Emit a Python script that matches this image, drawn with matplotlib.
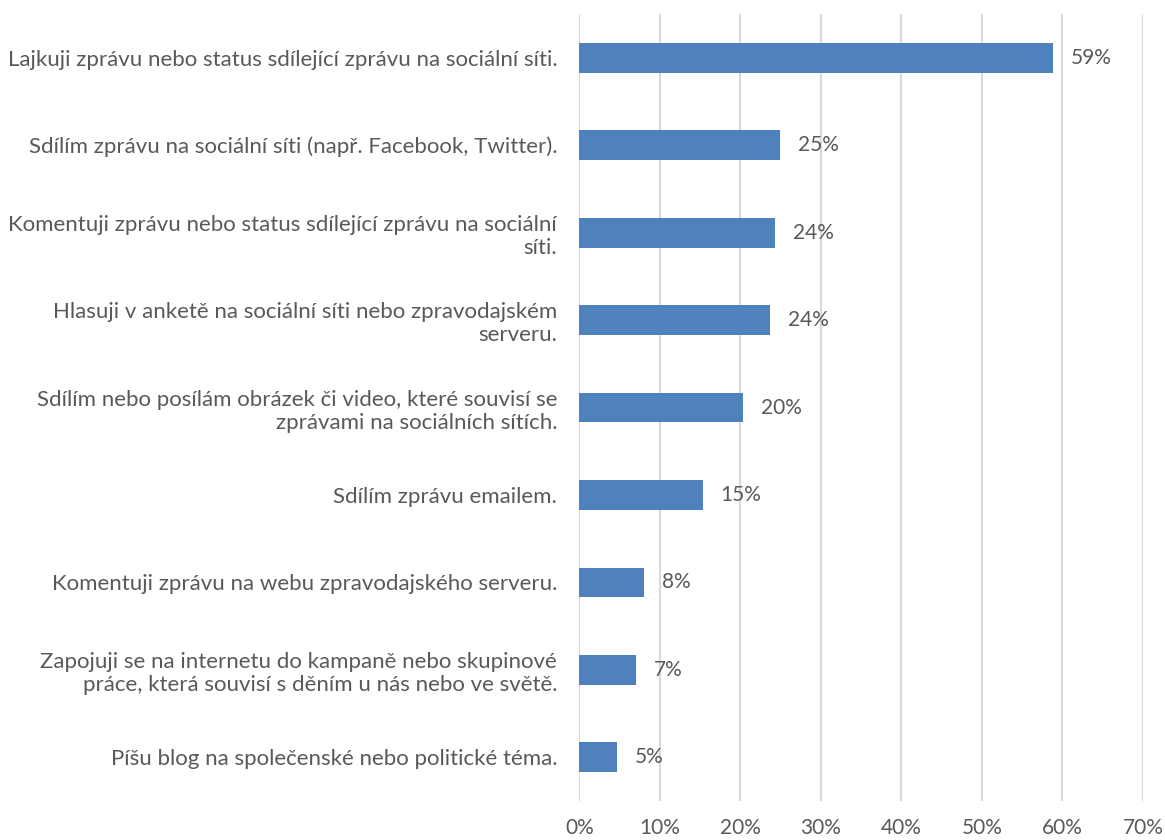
import numpy as np
import matplotlib.pyplot as plt
from matplotlib.ticker import PercentFormatter

# categories, top to bottom as in the chart
categories = [
    "Lajkuji zprávu nebo status sdílející zprávu na sociální síti.",
    "Sdílím zprávu na sociální síti (např. Facebook, Twitter).",
    "Komentuji zprávu nebo status sdílející zprávu na sociální\nsíti.",
    "Hlasuji v anketě na sociální síti nebo zpravodajském\nserveru.",
    "Sdílím nebo posílám obrázek či video, které souvisí se\nzprávami na sociálních sítích.",
    "Sdílím zprávu emailem.",
    "Komentuji zprávu na webu zpravodajského serveru.",
    "Zapojuji se na internetu do kampaně nebo skupinové\npráce, která souvisí s děním u nás nebo ve světě.",
    "Píšu blog na společenské nebo politické téma.",
]
shares = [0.588, 0.249, 0.243, 0.237, 0.203, 0.153, 0.080, 0.070, 0.047]

x_ticks = np.arange(0, 0.71, 0.1)

plt.rcParams["font.family"] = ["Lato", "DejaVu Sans"]
text_col = "#595959"
bar_col = "#4F81BD"

fig = plt.figure(figsize=(11.65, 8.4), dpi=100)
ax = fig.add_axes([0.4973, 0.0464, 0.4837, 0.9369])

y = np.arange(len(categories))
ax.barh(y, shares, height=0.34, color=bar_col, zorder=3)

# data labels
for yi, v in zip(y, shares):
    ax.annotate("{:.0%}".format(v), (v, yi), xytext=(13, 0),
                textcoords="offset points", va="center", ha="left",
                fontsize=15, color=text_col)

ax.set_ylim(len(categories) - 0.5, -0.5)
ax.set_yticks(y)
ax.set_yticklabels(categories, fontsize=16, color=text_col,
                   linespacing=1.2)
ax.set_xlim(0, 0.70)
ax.set_xticks(x_ticks)
ax.xaxis.set_major_formatter(PercentFormatter(1.0, decimals=0))
ax.tick_params(axis="x", length=0, pad=12, labelsize=15, labelcolor=text_col)
ax.tick_params(axis="y", length=0, pad=16)

ax.grid(axis="x", color="#D9D9D9", linewidth=1.5, zorder=0)
for s in ax.spines.values():
    s.set_visible(False)

fig.savefig("out.png", dpi=100)
